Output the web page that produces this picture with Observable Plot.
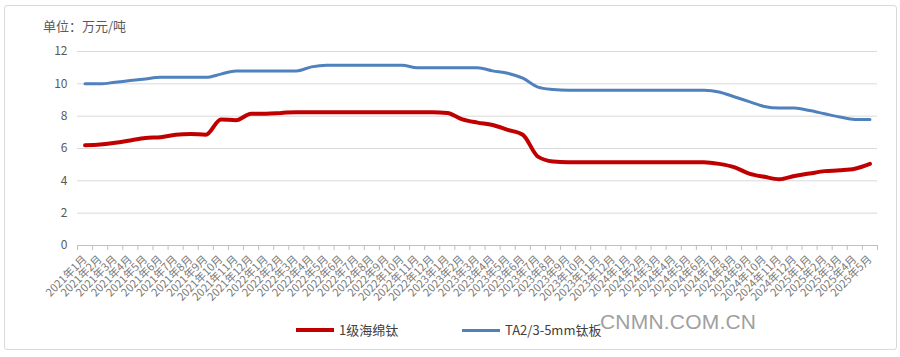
<!DOCTYPE html>
<html><head><meta charset="utf-8">
<script src="https://cdn.jsdelivr.net/npm/d3@7"></script>
<script src="https://cdn.jsdelivr.net/npm/@observablehq/plot@0.6"></script>
<style>
body{margin:0;background:#fff;font-family:"Noto Sans CJK SC","DejaVu Sans",sans-serif;}
#wrap{position:relative;width:900px;height:357px;overflow:hidden;background:#fff;}
#frame{position:absolute;left:4px;top:5px;width:893px;height:345px;border:1px solid #d9d9d9;box-sizing:border-box;border-radius:3px;}
#chart{position:absolute;left:0;top:0;}
#title{position:absolute;left:43px;top:16px;font-size:13px;color:#595959;white-space:nowrap;}
.lg{position:absolute;top:321px;font-size:13px;color:#404040;white-space:nowrap;line-height:18px;}
.sw{display:inline-block;vertical-align:middle;width:38px;margin-right:5px;position:relative;top:-1px;}
#wm{position:absolute;left:600px;top:310px;font-family:"Liberation Sans",Arial,sans-serif;font-size:21px;color:#a0a0a0;letter-spacing:0.2px;}
</style>
</head><body>
<div id="wrap">
  <div id="frame"></div>
  <div id="chart"></div>
  <div id="title">单位：万元/吨</div>
  <div class="lg" style="left:296px"><span class="sw" id="sw1"></span><span id="lg1"></span></div>
  <div class="lg" style="left:462px"><span class="sw" id="sw2"></span><span id="lg2"></span></div>
  <div id="wm">CNMN.COM.CN</div>
</div>
<script>
const months = [
  "2021年1月","2021年2月","2021年3月","2021年4月","2021年5月","2021年6月","2021年7月","2021年8月","2021年9月","2021年10月","2021年11月","2021年12月",
  "2022年1月","2022年2月","2022年3月","2022年4月","2022年5月","2022年6月","2022年7月","2022年8月","2022年9月","2022年10月","2022年11月","2022年12月",
  "2023年1月","2023年2月","2023年3月","2023年4月","2023年5月","2023年6月","2023年7月","2023年8月","2023年9月","2023年10月","2023年11月","2023年12月",
  "2024年1月","2024年2月","2024年3月","2024年4月","2024年5月","2024年6月","2024年7月","2024年8月","2024年9月","2024年10月","2024年11月","2024年12月",
  "2025年1月","2025年2月","2025年3月","2025年4月","2025年5月"
];
const seriesNames = ["1级海绵钛", "TA2/3-5mm钛板"];
const sponge = [
  6.2, 6.25, 6.35, 6.5, 6.65, 6.7, 6.85, 6.9, 6.85, 7.8, 7.75, 8.15,
  8.15, 8.2, 8.25, 8.25, 8.25, 8.25, 8.25, 8.25, 8.25, 8.25, 8.25, 8.25,
  8.2, 7.8, 7.6, 7.45, 7.15, 6.85, 5.5, 5.2, 5.15, 5.15, 5.15, 5.15,
  5.15, 5.15, 5.15, 5.15, 5.15, 5.15, 5.05, 4.85, 4.45, 4.25, 4.1, 4.3,
  4.45, 4.6, 4.65, 4.75, 5.05
];
const plate = [
  10.0, 10.0, 10.1, 10.2, 10.3, 10.4, 10.4, 10.4, 10.4, 10.6, 10.8, 10.8,
  10.8, 10.8, 10.8, 11.05, 11.15, 11.15, 11.15, 11.15, 11.15, 11.15, 11.0, 11.0,
  11.0, 11.0, 11.0, 10.8, 10.65, 10.35, 9.8, 9.65, 9.6, 9.6, 9.6, 9.6,
  9.6, 9.6, 9.6, 9.6, 9.6, 9.6, 9.5, 9.2, 8.9, 8.6, 8.5, 8.5,
  8.35, 8.15, 7.95, 7.8, 7.8
];
const yTicks = [0, 2, 4, 6, 8, 10, 12];
const colors = ["#c00000", "#4f81bd"];

const data = months.map((m, i) => ({i, m, sponge: sponge[i], plate: plate[i]}));
const n = months.length;

const chart = Plot.plot({
  width: 900, height: 357,
  marginLeft: 77, marginRight: 23, marginTop: 51, marginBottom: 112,
  style: {fontFamily: '"Noto Sans CJK SC","DejaVu Sans",sans-serif', background: "transparent", color: "#595959"},
  x: {type: "linear", domain: [-0.5, n - 0.5]},
  y: {domain: [0, 12]},
  marks: [
    Plot.gridY(yTicks.filter(d => d > 0), {stroke: "#d9d9d9", strokeOpacity: 1}),
    Plot.axisY(yTicks, {tickSize: 0, tickPadding: 10, fontSize: 12, label: null, fill: "#595959"}),
    Plot.ruleY([0], {stroke: "#bfbfbf"}),
    Plot.axisX(d3.range(n + 1).map(i => i - 0.5), {tickSize: 5, tickFormat: () => "", stroke: "#bfbfbf", label: null}),
    Plot.axisX(d3.range(n), {tickSize: 0, tickRotate: -45, tickPadding: 12, tickFormat: i => months[i], fontSize: 11, fill: "#7a7a7a", label: null}),
    Plot.line(data, {x: "i", y: "plate", stroke: colors[1], strokeWidth: 3, curve: "monotone-x"}),
    Plot.line(data, {x: "i", y: "sponge", stroke: colors[0], strokeWidth: 4, curve: "monotone-x"})
  ]
});
document.getElementById("chart").appendChild(chart);

document.getElementById("sw1").style.borderTop = "4px solid " + colors[0];
document.getElementById("sw2").style.borderTop = "3px solid " + colors[1];
document.getElementById("lg1").textContent = seriesNames[0];
document.getElementById("lg2").textContent = seriesNames[1];
</script>
</body></html>
